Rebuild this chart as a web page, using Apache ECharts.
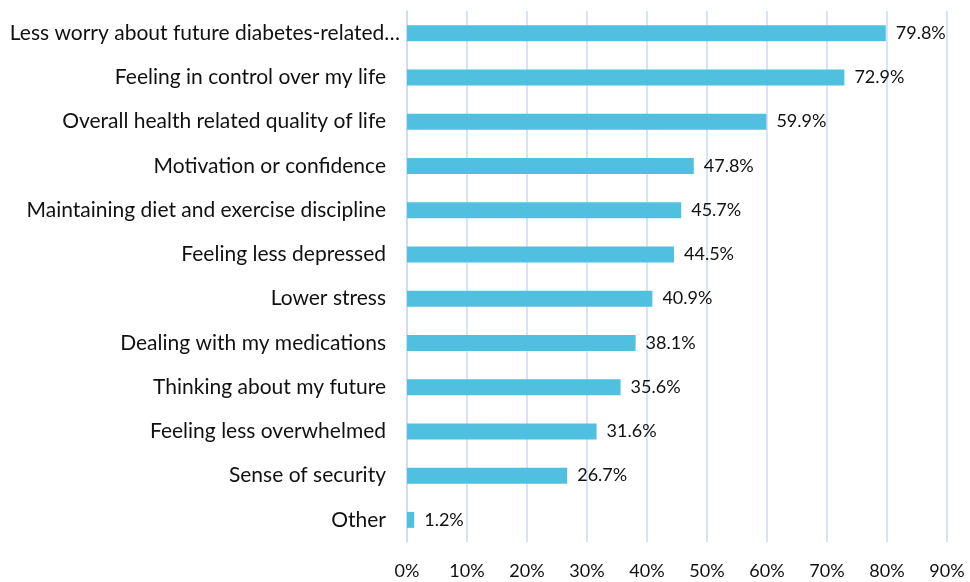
<!DOCTYPE html>
<html>
<head>
<meta charset="utf-8">
<script src="https://cdn.jsdelivr.net/npm/echarts@6/dist/echarts.min.js"></script>
<style>html,body{margin:0;padding:0;background:#fff}#c{width:970px;height:582px}</style>
</head>
<body>
<div id="c"></div>
<script>
const categories = [
  "Less worry about future diabetes-related…",
  "Feeling in control over my life",
  "Overall health related quality of life",
  "Motivation or confidence",
  "Maintaining diet and exercise discipline",
  "Feeling less depressed",
  "Lower stress",
  "Dealing with my medications",
  "Thinking about my future",
  "Feeling less overwhelmed",
  "Sense of security",
  "Other"
];
const values = [79.8, 72.9, 59.9, 47.8, 45.7, 44.5, 40.9, 38.1, 35.6, 31.6, 26.7, 1.2];
const xTicks = { min: 0, max: 90, interval: 10 };

const font = "Lato, 'Open Sans', sans-serif";
const chart = echarts.init(document.getElementById('c'));
chart.setOption({
  animation: false,
  grid: { left: 407, right: 23, top: 11, bottom: 40, containLabel: false },
  xAxis: {
    type: 'value',
    min: xTicks.min, max: xTicks.max, interval: xTicks.interval,
    axisLine: { show: false },
    axisTick: { show: false },
    splitLine: { show: true, lineStyle: { color: '#CCDAF2', width: 1.5 } },
    axisLabel: { formatter: v => v + '%', color: '#111', fontSize: 18, fontFamily: font, margin: 20 }
  },
  yAxis: {
    type: 'category',
    data: categories,
    inverse: true,
    axisLine: { show: true, lineStyle: { color: '#CCDAF2', width: 1.5 } },
    axisTick: { show: false },
    axisLabel: {
      color: '#111', fontSize: 21, fontFamily: font, margin: 21,
      formatter: (v, i) => i === 0 ? '{w|' + v + '}' : v,
      rich: { w: { fontSize: 21, fontFamily: font, color: '#111', padding: [0, -14, 0, 0] } }
    }
  },
  series: [{
    type: 'bar',
    data: values,
    barWidth: 16,
    itemStyle: { color: '#50C0E0' },
    label: {
      show: true, position: 'right', distance: 10,
      formatter: p => p.value.toFixed(1) + '%',
      color: '#111', fontSize: 18, fontFamily: font
    }
  }]
});
</script>
</body>
</html>
